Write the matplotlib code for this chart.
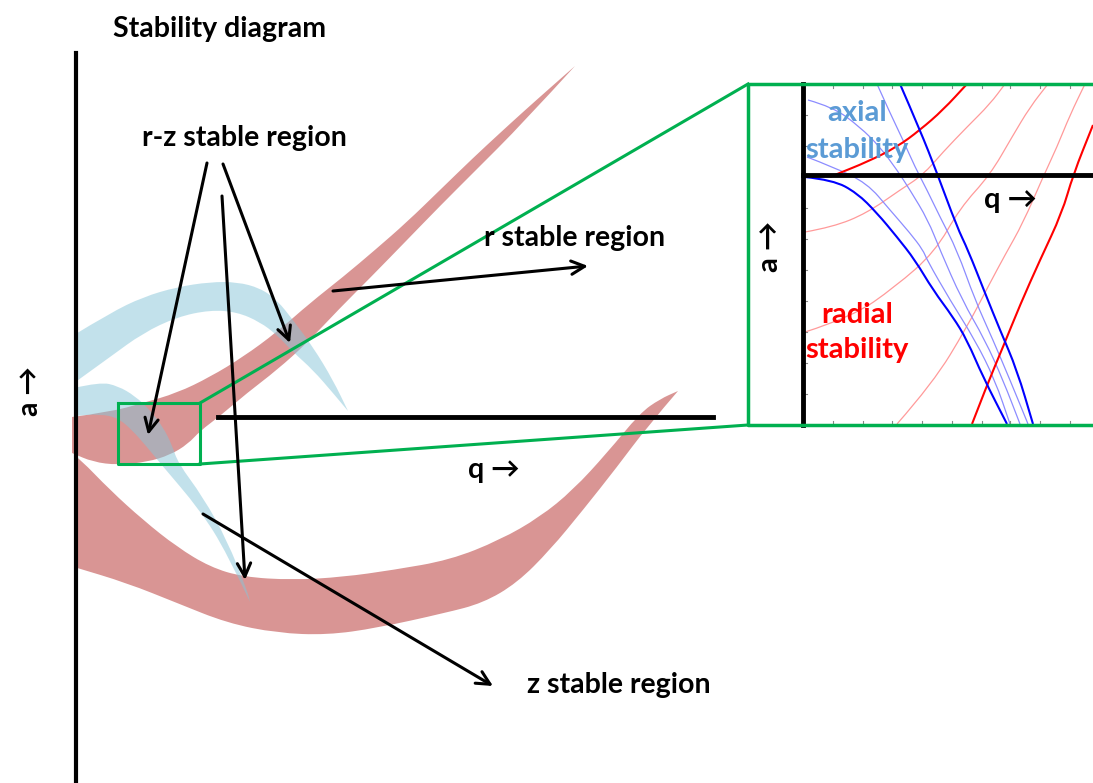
import numpy as np
import matplotlib.pyplot as plt
from matplotlib.path import Path
from matplotlib.patches import PathPatch

# ---- outlines (pixel coordinates, y downward) ----
# upper red band (r stable branch going up-right)
r_up_top = [(72, 417), (110, 412), (143, 403), (177, 393), (210, 377), (243, 357),
            (277, 332), (310, 303), (343, 277), (375, 250), (407, 222), (440, 190),
            (473, 158), (500, 133), (523, 112), (550, 88), (575, 66)]
r_up_bot = [(72, 453), (93, 462), (118, 465), (147, 462), (170, 455), (188, 444),
            (200, 431), (220, 416), (247, 393), (277, 370), (307, 343), (340, 308),
            (370, 278), (407, 240), (440, 206), (473, 173), (523, 123), (575, 66)]

# lower red band (bowl shape)
r_low_top = [(74, 455), (80, 459), (110, 490), (143, 520), (177, 547), (210, 567),
             (243, 577), (293, 580), (343, 577), (393, 570), (450, 560), (500, 540),
             (540, 517), (573, 490), (607, 453), (640, 413), (660, 399), (678, 391)]
r_low_bot = [(74, 567), (127, 583), (177, 603), (227, 623), (277, 633), (327, 635),
             (377, 628), (445, 613), (483, 603), (517, 583), (550, 550), (583, 510),
             (617, 467), (647, 427), (678, 391)]

# light blue arch
c_arch_top = [(74, 335), (110, 313), (143, 297), (177, 287), (210, 282), (237, 282),
              (260, 288), (277, 300), (293, 320), (313, 347), (333, 380), (348, 411)]
c_arch_bot = [(74, 383), (110, 357), (143, 333), (177, 317), (210, 310), (237, 312),
              (260, 322), (277, 335), (293, 352), (313, 370), (333, 393), (348, 411)]

# light blue hook
c_hook_out = [(74, 388), (100, 382), (118, 386), (135, 396), (150, 410), (163, 427),
              (172, 445), (178, 463), (203, 497), (227, 540), (247, 590), (250, 602)]
c_hook_in = [(74, 416), (100, 414), (118, 418), (132, 430), (147, 447), (160, 463),
             (200, 510), (227, 553), (250, 602)]

# inset curves
blue_thick = [
    [(805, 177), (833, 180), (857, 193), (877, 213), (897, 237), (915, 260), (933, 290),
     (953, 317), (967, 340), (983, 377), (1007, 424)],
    [(900, 84), (920, 130), (937, 173), (957, 227), (968, 250), (985, 293), (1000, 330),
     (1017, 370), (1033, 424)],
]
blue_thin = [
    [(807, 157), (833, 167), (867, 183), (890, 210), (910, 233), (923, 250), (927, 260),
     (950, 300), (975, 340), (995, 380), (1010, 424)],
    [(808, 100), (833, 107), (860, 127), (880, 147), (897, 170), (910, 190), (928, 220),
     (940, 250), (962, 300), (985, 340), (1003, 380), (1020, 424)],
    [(877, 84), (890, 113), (903, 140), (915, 167), (927, 190), (940, 217), (957, 250),
     (975, 300), (993, 340), (1010, 380), (1028, 424)],
]
red_thick = [
    [(830, 177), (837, 174), (867, 162), (897, 147), (920, 130), (943, 110), (967, 84)],
    [(972, 424), (987, 385), (1003, 347), (1020, 305), (1040, 260), (1062, 213),
     (1073, 175), (1093, 125)],
]
red_thin = [
    [(805, 232), (833, 227), (867, 213), (900, 190), (923, 175), (943, 152), (967, 127),
     (990, 104), (1005, 84)],
    [(805, 332), (852, 317), (895, 287), (935, 252), (960, 208), (990, 175), (1012, 137),
     (1030, 107), (1048, 84)],
    [(897, 424), (933, 383), (967, 327), (990, 283), (1005, 255), (1023, 223),
     (1043, 177), (1057, 147), (1070, 115), (1085, 84)],
]
tick_x = [833, 863, 892, 922, 952, 982, 1010, 1040, 1070]
tick_y = [115, 146, 208, 239, 270, 301, 332, 363, 394]

RED = '#D99594'
CYAN = '#86C5D8'
GREEN = '#00B050'
FONT = ['Lato', 'DejaVu Sans']

fig = plt.figure(figsize=(10.93, 7.83), dpi=100)
ax = fig.add_axes([0, 0, 1, 1])
ax.set_xlim(0, 1093)
ax.set_ylim(783, 0)
ax.axis('off')


def smooth_path(pts):
    # quadratic bezier through the midpoints, read points act as control points
    pts = np.asarray(pts, float)
    verts = [pts[0]]
    codes = [Path.MOVETO]
    for i in range(1, len(pts) - 1):
        verts += [pts[i], (pts[i] + pts[i + 1]) / 2]
        codes += [Path.CURVE3, Path.CURVE3]
    verts.append(pts[-1])
    codes.append(Path.LINETO)
    return Path(verts, codes)


def band(top, bot, color, alpha=1.0):
    # along the top edge, then back along the bottom edge
    p1 = smooth_path(top)
    p2 = smooth_path(bot[::-1])
    verts = list(p1.vertices) + list(p2.vertices) + [p1.vertices[0]]
    codes = list(p1.codes) + [Path.LINETO] + list(p2.codes[1:]) + [Path.CLOSEPOLY]
    ax.add_patch(PathPatch(Path(verts, codes), facecolor=color, alpha=alpha, lw=0, zorder=1))


def curve(pts, color, lw, z=4):
    ax.add_patch(PathPatch(smooth_path(pts), facecolor='none', edgecolor=color, lw=lw, zorder=z))


band(r_up_top, r_up_bot, RED)
band(r_low_top, r_low_bot, RED)
band(c_arch_top, c_arch_bot, CYAN, 0.5)
band(c_hook_out, c_hook_in, CYAN, 0.5)

# main axes
ax.plot([76, 76], [53, 783], color='black', lw=3, zorder=3)
ax.plot([218, 713], [417, 417], color='black', lw=3.5, zorder=3)

# zoom box and connectors
ax.plot([118, 200, 200, 118, 118], [403, 403, 464, 464, 403], color=GREEN, lw=2.2, zorder=4)
ax.plot([200, 748], [403, 84], color=GREEN, lw=2.2, zorder=4)
ax.plot([200, 748], [464, 425], color=GREEN, lw=2.2, zorder=4)
ax.plot([1093, 748, 748, 1093], [84, 84, 425, 425], color=GREEN, lw=2.5, zorder=6)

# inset
for c in red_thin:
    curve(c, '#FF9A9A', 0.9)
for c in blue_thin:
    curve(c, '#8C8CFF', 0.9)
for c in red_thick:
    curve(c, '#FF0000', 1.5)
for c in blue_thick:
    curve(c, '#0000FF', 1.5)
for x in tick_x:
    ax.plot([x, x], [425, 421], color='#888888', lw=0.8, zorder=5)
    ax.plot([x, x], [84, 88], color='#888888', lw=0.8, zorder=5)
for y in tick_y:
    ax.plot([803, 807], [y, y], color='#888888', lw=0.8, zorder=5)
ax.plot([803, 803], [84, 425], color='black', lw=3.5, zorder=5)
ax.plot([803, 1093], [175, 175], color='black', lw=3.5, zorder=5)

# arrows
arrows = [((207, 163), (148, 435)), ((223, 164), (290, 343)), ((222, 196), (245, 580)),
          ((333, 291), (588, 266)), ((203, 514), (493, 686))]
for (x0, y0), (x1, y1) in arrows:
    ax.annotate('', xy=(x1, y1), xytext=(x0, y0), zorder=5,
                arrowprops=dict(arrowstyle='->', color='black', lw=2.2,
                                mutation_scale=24, shrinkA=0, shrinkB=0))

# labels
bold = dict(fontweight='bold', family=FONT, zorder=7)
ax.text(113, 29, 'Stability diagram', fontsize=20.5, ha='left', va='center', **bold)
ax.text(244, 138, 'r-z stable region', fontsize=20.5, ha='center', va='center', **bold)
ax.text(575, 238, 'r stable region', fontsize=20.5, ha='center', va='center', **bold)
ax.text(494, 470, 'q \u2192', fontsize=20.5, ha='center', va='center', **bold)
ax.text(619, 685, 'z stable region', fontsize=20.5, ha='center', va='center', **bold)
ax.text(30, 391, 'a \u2192', fontsize=20.5, ha='center', va='center', rotation=90, **bold)

ax.text(857, 113, 'axial', fontsize=21, ha='center', va='center', color='#5B9BD5', **bold)
ax.text(857, 150, 'stability', fontsize=21, ha='center', va='center', color='#5B9BD5', **bold)
ax.text(857, 315, 'radial', fontsize=21, ha='center', va='center', color='#FF0000', **bold)
ax.text(857, 350, 'stability', fontsize=21, ha='center', va='center', color='#FF0000', **bold)
ax.text(1010, 200, 'q \u2192', fontsize=21, ha='center', va='center', **bold)
ax.text(770, 246, 'a \u2192', fontsize=21, ha='center', va='center', rotation=90, **bold)

fig.savefig('out.png', dpi=100)
